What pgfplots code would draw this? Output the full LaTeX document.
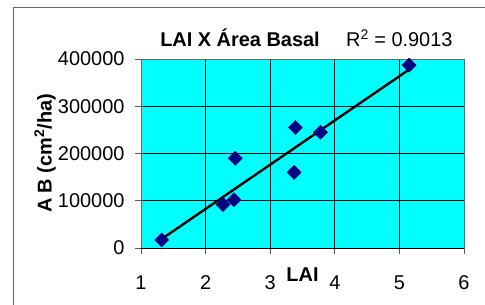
\documentclass[border=0pt]{standalone}
\usepackage{fontspec}
\setmainfont{Liberation Sans}
\usepackage{pgfplots}
\pgfplotsset{compat=1.18}
\definecolor{navy}{RGB}{0,0,128}
\definecolor{cyanbg}{RGB}{0,255,255}
\begin{document}
\begin{tikzpicture}
\path[use as bounding box] (0,0) rectangle (485bp,305bp);
\draw[gray!80!black, line width=1bp] (13bp,0) -- (13bp,297bp) -- (485bp,297bp);
\begin{axis}[
  at={(141bp,57bp)}, anchor=south west,
  scale only axis, width=323bp, height=189bp,
  xmin=1, xmax=6, ymin=0, ymax=400000,
  xtick={1,2,3,4,5,6},
  ytick={0,100000,200000,300000,400000},
  scaled y ticks=false,
  /pgf/number format/assume math mode=true,
  yticklabel style={/pgf/number format/fixed, /pgf/number format/1000 sep={}},
  ticklabel style={font=\fontsize{20}{22}\selectfont},
  tick align=outside, tick pos=left,
  major tick length=6bp,
  tick style={gray!70!black, line width=0.8bp},
  axis background/.style={fill=cyanbg},
  axis line style={gray!80!black, line width=0.8bp},
  grid=major,
  major grid style={black, line width=0.8bp},
  xticklabel style={anchor=center, yshift=-29bp},
  yticklabel style={anchor=east, xshift=-7bp},
  xlabel={\textbf{LAI}},
  xlabel style={at={(axis description cs:0.5,0)}, anchor=center, yshift=-27bp, font=\fontsize{20}{22}\selectfont},
  ylabel={\textbf{A B (cm\textsuperscript{2}/ha)}},
  ylabel style={at={(axis description cs:-0.297,0.5)}, anchor=center, font=\fontsize{20}{22}\selectfont},
  clip=false,
]
\addplot[navy, only marks, mark=square*, mark size=5bp, mark options={rotate=45, fill=navy, draw=navy}]
 coordinates {(1.32,17000) (2.27,92000) (2.44,102000) (2.46,190000) (3.37,160000) (3.39,255000) (3.78,245000) (5.15,387000)};
\addplot[black, line width=2.4bp, no marks] coordinates {(1.32,19000) (5.15,377700)};
\draw[black, line width=1bp] (axis cs:1,0) -- (axis cs:6,0);
\end{axis}
\node[anchor=base, font=\fontsize{20}{22}\selectfont\bfseries] at (240bp,258bp) {LAI X Área Basal};
\node[anchor=base west, font=\fontsize{20}{22}\selectfont, inner sep=0pt] at (346bp,258bp) {R\textsuperscript{2} = 0.9013};
\end{tikzpicture}
\end{document}
